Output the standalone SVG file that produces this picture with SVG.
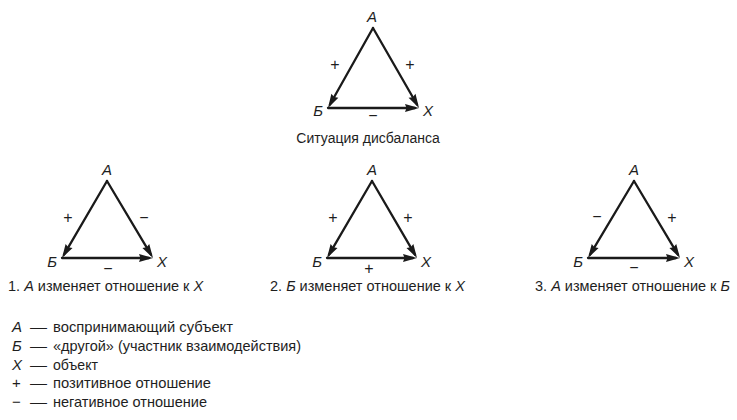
<svg xmlns="http://www.w3.org/2000/svg" width="737" height="420" viewBox="0 0 737 420">
<style>
text{font-family:"Liberation Sans",Arial,sans-serif;fill:#1e1e1e;}
.lbl{font-size:15px;font-style:italic;}
.it{font-style:italic;}
.sign{font-size:16px;text-anchor:middle;}
.cap{font-size:14.5px;}
.cap0{font-size:14px;}
.leg{font-size:15px;}
.mid{text-anchor:middle;}
.end{text-anchor:end;}
.edge{stroke:#1a1a1a;stroke-width:2.3;fill:none;stroke-linecap:round;marker-end:url(#ah);}
</style>
<defs>
<marker id="ah" markerUnits="userSpaceOnUse" markerWidth="15" markerHeight="9" refX="10" refY="4" orient="auto" overflow="visible">
<path d="M0,0 L14,4 L0,8 L1.5,4 z" fill="#1a1a1a"/>
</marker>
</defs>

<!-- Top: imbalance situation -->
<g id="top">
<g id="top-A"><text class="lbl mid" x="372" y="22">А</text></g>
<g id="top-B"><text class="lbl end" x="323" y="116">Б</text></g>
<g id="top-X"><text class="lbl" x="423" y="116">X</text></g>
<g id="top-connectors">
<line class="edge" x1="373" y1="28" x2="329.96" y2="104.52"/>
<line class="edge" x1="373" y1="28" x2="417.01" y2="104.53"/>
<line class="edge" x1="328" y1="108" x2="415" y2="108"/>
<text class="sign" x="335" y="70">+</text>
<text class="sign" x="410" y="70">+</text>
<text class="sign" x="373" y="121">−</text>
</g>
<text class="cap0 mid" x="368" y="143">Ситуация дисбаланса</text>
</g>

<!-- Triangle 1 -->
<g id="t1">
<g id="t1-A"><text class="lbl mid" x="107" y="175">А</text></g>
<g id="t1-B"><text class="lbl end" x="57" y="267">Б</text></g>
<g id="t1-X"><text class="lbl" x="157" y="267">X</text></g>
<g id="t1-connectors">
<line class="edge" x1="107" y1="181" x2="64.02" y2="254.55"/>
<line class="edge" x1="107" y1="181" x2="150.95" y2="254.57"/>
<line class="edge" x1="62" y1="258" x2="149" y2="258"/>
<text class="sign" x="68" y="223">+</text>
<text class="sign" x="144" y="223">−</text>
<text class="sign" x="108" y="274">−</text>
</g>
<text class="cap" x="8" y="291">1. <tspan class="it">А</tspan> изменяет отношение к <tspan class="it">X</tspan></text>
</g>

<!-- Triangle 2 -->
<g id="t2">
<g id="t2-A"><text class="lbl mid" x="372" y="175">А</text></g>
<g id="t2-B"><text class="lbl end" x="322" y="267">Б</text></g>
<g id="t2-X"><text class="lbl" x="421" y="267">X</text></g>
<g id="t2-connectors">
<line class="edge" x1="372" y1="181" x2="329.02" y2="254.55"/>
<line class="edge" x1="372" y1="181" x2="414.98" y2="254.55"/>
<line class="edge" x1="327" y1="258" x2="413" y2="258"/>
<text class="sign" x="333" y="223">+</text>
<text class="sign" x="408" y="223">+</text>
<text class="sign" x="369" y="274">+</text>
</g>
<text class="cap" x="270" y="291">2. <tspan class="it">Б</tspan> изменяет отношение к <tspan class="it">X</tspan></text>
</g>

<!-- Triangle 3 -->
<g id="t3">
<g id="t3-A"><text class="lbl mid" x="634" y="175">А</text></g>
<g id="t3-B"><text class="lbl end" x="583" y="267">Б</text></g>
<g id="t3-X"><text class="lbl" x="684" y="267">X</text></g>
<g id="t3-connectors">
<line class="edge" x1="634" y1="181" x2="590.05" y2="254.57"/>
<line class="edge" x1="634" y1="181" x2="677.95" y2="254.57"/>
<line class="edge" x1="588" y1="258" x2="676" y2="258"/>
<text class="sign" x="597" y="222">−</text>
<text class="sign" x="672" y="223">+</text>
<text class="sign" x="634" y="273">−</text>
</g>
<text class="cap" x="535" y="291">3. <tspan class="it">А</tspan> изменяет отношение к <tspan class="it">Б</tspan></text>
</g>

<!-- Legend -->
<g id="legend" class="leg">
<text class="leg it" x="12" y="332">А</text><text class="leg" x="30" y="332" textLength="17" lengthAdjust="spacingAndGlyphs">—</text><text class="leg" x="53" y="332" textLength="180" lengthAdjust="spacingAndGlyphs">воспринимающий субъект</text>
<text class="leg it" x="12" y="351">Б</text><text class="leg" x="30" y="351" textLength="17" lengthAdjust="spacingAndGlyphs">—</text><text class="leg" x="53" y="351" textLength="248" lengthAdjust="spacingAndGlyphs">«другой» (участник взаимодействия)</text>
<text class="leg it" x="12" y="370">X</text><text class="leg" x="30" y="370" textLength="17" lengthAdjust="spacingAndGlyphs">—</text><text class="leg" x="53" y="370" textLength="45" lengthAdjust="spacingAndGlyphs">объект</text>
<text class="leg" x="12" y="388">+</text><text class="leg" x="30" y="388" textLength="17" lengthAdjust="spacingAndGlyphs">—</text><text class="leg" x="53" y="388" textLength="158" lengthAdjust="spacingAndGlyphs">позитивное отношение</text>
<text class="leg" x="12" y="407">−</text><text class="leg" x="30" y="407" textLength="17" lengthAdjust="spacingAndGlyphs">—</text><text class="leg" x="53" y="407" textLength="154" lengthAdjust="spacingAndGlyphs">негативное отношение</text>
</g>
</svg>
